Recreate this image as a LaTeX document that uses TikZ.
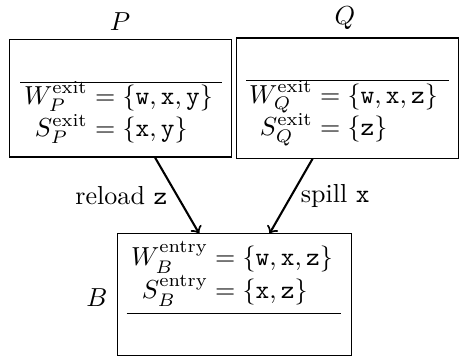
\documentclass[tikz,border=0pt]{standalone}
\usepackage{amsmath, amssymb}
\usetikzlibrary{calc}

\begin{document}
\begin{tikzpicture}[
  x=0.384pt, y=-0.384pt,
  blk/.style={draw, inner sep=0pt},
  sets/.style={inner sep=0pt},
  arrow/.style={->, thick},
]
\useasboundingbox (0,0) rectangle (460,357);

% Block P
\node[blk, minimum width=84.9pt, minimum height=45.3pt] (Pbox) at (120.5, 98) {};
\node (Plab) at (120, 22) {$P$};
\draw ($(Pbox.north west)+(11,44)$) -- ($(Pbox.north east)+(-10,44)$);
\node[sets] (Pset) at (118.5, 114) {$\begin{aligned}
  W_P^{\text{exit}} &= \{\mathtt{w},\mathtt{x},\mathtt{y}\}\\[-4pt]
  S_P^{\text{exit}} &= \{\mathtt{x},\mathtt{y}\}
\end{aligned}$};

% Block Q
\node[blk, minimum width=84.9pt, minimum height=46.1pt] (Qbox) at (347.5, 98) {};
\node (Qlab) at (345, 18) {$Q$};
\draw ($(Qbox.north west)+(10,43)$) -- ($(Qbox.north east)+(-10,43)$);
\node[sets] (Qset) at (343.5, 113) {$\begin{aligned}
  W_Q^{\text{exit}} &= \{\mathtt{w},\mathtt{x},\mathtt{z}\}\\[-4pt]
  S_Q^{\text{exit}} &= \{\mathtt{z}\}
\end{aligned}$};

% Block B
\node[blk, minimum width=90.2pt, minimum height=46.5pt] (Bbox) at (234.5, 294.5) {};
\node (Blab) at (97, 298) {$B$};
\node[sets] (Bset) at (232, 275) {$\begin{aligned}
  W_B^{\text{entry}} &= \{\mathtt{w},\mathtt{x},\mathtt{z}\}\\[-4pt]
  S_B^{\text{entry}} &= \{\mathtt{x},\mathtt{z}\}
\end{aligned}$};
\draw ($(Bbox.south west)+(10,-42)$) -- ($(Bbox.south east)+(-11,-42)$);

% Edges
\draw[arrow] (Pbox) -- (Bbox) node[midway, left] {reload \texttt{z}};
\draw[arrow] (Qbox) -- (Bbox) node[midway, right] {spill \texttt{x}};
\end{tikzpicture}
\end{document}
